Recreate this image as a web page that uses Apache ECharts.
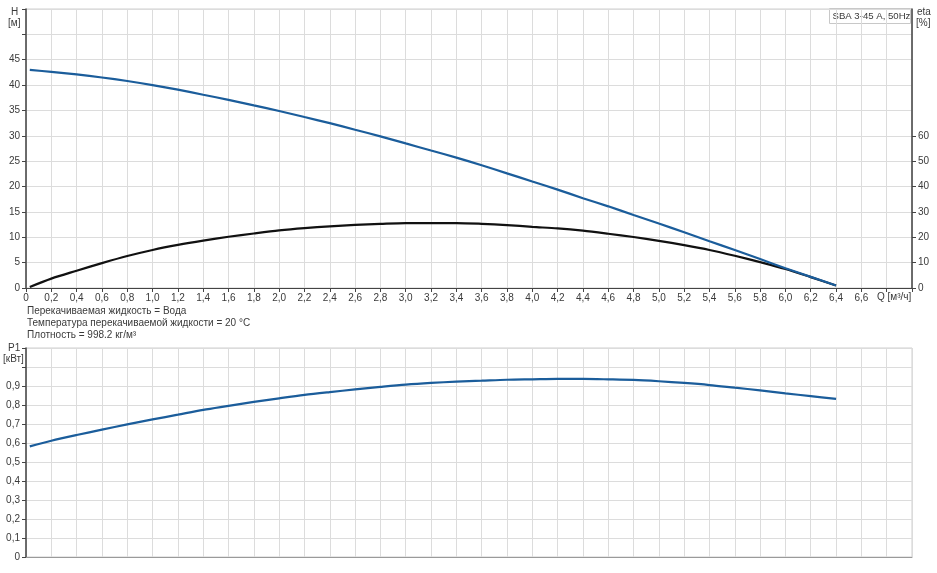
<!DOCTYPE html>
<html>
<head>
<meta charset="utf-8">
<script src="https://cdn.jsdelivr.net/npm/echarts@6/dist/echarts.min.js"></script>
<style>
html,body{margin:0;padding:0;background:#fff;}
#c{width:937px;height:573px;}
</style>
</head>
<body>
<div id="c"></div>
<script>
var Q = [0.03,0.2,0.4,0.6,0.8,1.0,1.2,1.4,1.6,1.8,2.0,2.2,2.4,2.6,2.8,3.0,3.2,3.4,3.6,3.8,4.0,4.2,4.4,4.6,4.8,5.0,5.2,5.4,5.6,5.8,6.0,6.2,6.4];
var H = [43.0,42.6,42.1,41.5,40.8,40.0,39.1,38.1,37.1,36.0,34.9,33.7,32.5,31.2,29.9,28.5,27.1,25.7,24.2,22.6,21.0,19.4,17.7,16.1,14.4,12.7,11.0,9.2,7.5,5.7,3.9,2.2,0.5];
var ETA = [0.4,3.7,6.8,9.8,12.6,15.0,17.0,18.7,20.2,21.5,22.7,23.6,24.3,24.9,25.3,25.6,25.6,25.6,25.3,24.8,24.1,23.5,22.6,21.4,20.1,18.6,16.9,15.0,12.7,10.2,7.5,4.3,1.0];
var P1 = [0.582,0.612,0.642,0.670,0.698,0.724,0.749,0.774,0.795,0.816,0.835,0.853,0.868,0.882,0.895,0.907,0.916,0.923,0.928,0.933,0.935,0.937,0.937,0.935,0.932,0.925,0.916,0.905,0.891,0.877,0.861,0.847,0.832];
var H_TICKS = [0,5,10,15,20,25,30,35,40,45];
var ETA_TICKS = [0,10,20,30,40,50,60];
var P1_TICKS = [0,0.1,0.2,0.3,0.4,0.5,0.6,0.7,0.8,0.9];
var TITLE = 'SBA 3-45 A, 50Hz';
var NOTES = ['Перекачиваемая жидкость = Вода','Температура перекачиваемой жидкости = 20 °C','Плотность = 998.2 кг/м³'];

function pairs(xs, ys){ return xs.map(function(x,i){return [x, ys[i]];}); }
function fmtComma(v){ return (Math.round(v*10)/10).toFixed(1).replace('.', ','); }

var FONT = 'Liberation Sans, Arial, sans-serif';
var TXT = '#3a3a3a';
var GRIDC = '#dcdcdc';
var AXISC = '#444';

var chart = echarts.init(document.getElementById('c'), null, {renderer:'canvas'});

var xCommon = {
  type:'value', min:0, max:7, interval:0.2,
  splitLine:{show:true, lineStyle:{color:GRIDC, width:1}},
};

var option = {
  animation:false,
  textStyle:{fontFamily:FONT},
  grid:[
    {left:26, right:25, top:9, bottom:285, show:true, borderColor:'#cfcfcf', borderWidth:1},
    {left:26, right:25, top:348, bottom:16, show:true, borderColor:'#cfcfcf', borderWidth:1}
  ],
  xAxis:[
    Object.assign({}, xCommon, {
      gridIndex:0,
      axisLine:{show:true, lineStyle:{color:AXISC, width:1}},
      axisTick:{show:true, length:4, lineStyle:{color:AXISC}},
      axisLabel:{color:TXT, fontSize:10, fontFamily:FONT, margin:5,
        formatter:function(v){ if(v>6.7) return ''; return v===0?'0':fmtComma(v);} }
    }),
    Object.assign({}, xCommon, {
      gridIndex:1,
      axisLine:{show:true, lineStyle:{color:'#9a9a9a', width:1}},
      axisTick:{show:false},
      axisLabel:{show:false}
    })
  ],
  yAxis:[
    {type:'value', gridIndex:0, min:0, max:55, interval:5, position:'left',
      axisLine:{show:true, lineStyle:{color:AXISC, width:1.5}},
      axisTick:{show:true, length:4, lineStyle:{color:AXISC}},
      splitLine:{show:true, lineStyle:{color:GRIDC}},
      axisLabel:{color:TXT, fontSize:10, fontFamily:FONT, margin:6,
        formatter:function(v){ return H_TICKS.indexOf(v)>=0 ? String(v) : ''; }}
    },
    {type:'value', gridIndex:0, min:0, max:110, interval:10, position:'right',
      axisLine:{show:true, lineStyle:{color:AXISC, width:1.5}},
      axisTick:{show:true, length:4, lineStyle:{color:AXISC}, customValues:ETA_TICKS},
      splitLine:{show:false},
      axisLabel:{color:TXT, fontSize:10, fontFamily:FONT, margin:6,
        formatter:function(v){ return ETA_TICKS.indexOf(v)>=0 ? String(v) : ''; }}
    },
    {type:'value', gridIndex:1, min:0, max:1.1, interval:0.1, position:'left',
      axisLine:{show:true, lineStyle:{color:AXISC, width:1.5}},
      axisTick:{show:true, length:4, lineStyle:{color:AXISC}},
      splitLine:{show:true, lineStyle:{color:GRIDC}},
      axisLabel:{color:TXT, fontSize:10, fontFamily:FONT, margin:6,
        formatter:function(v){
          var r = Math.round(v*10)/10;
          for (var i=0;i<P1_TICKS.length;i++){ if (Math.abs(P1_TICKS[i]-r)<1e-9) return r===0?'0':fmtComma(r); }
          return '';
        }}
    }
  ],
  series:[
    {type:'line', name:'H', xAxisIndex:0, yAxisIndex:0, data:pairs(Q,H), smooth:0.3, showSymbol:false,
      lineStyle:{color:'#1b5d9b', width:2.2}, z:3},
    {type:'line', name:'eta', xAxisIndex:0, yAxisIndex:1, data:pairs(Q,ETA), smooth:0.3, showSymbol:false,
      lineStyle:{color:'#111111', width:2.2}, z:2},
    {type:'line', name:'P1', xAxisIndex:1, yAxisIndex:2, data:pairs(Q,P1), smooth:0.3, showSymbol:false,
      lineStyle:{color:'#1b5d9b', width:2.2}, z:3}
  ],
  graphic:[
    {type:'group', left:829, top:8, z:10, children:[
      {type:'rect', shape:{x:0,y:0,width:81,height:15}, style:{fill:'#fff', stroke:'#c8c8c8', lineWidth:1}},
      {type:'text', x:3, y:2.5, style:{text:TITLE, fill:TXT, font:'9.6px '+FONT}}
    ]},
    {type:'text', left:11, top:7, style:{text:'H', fill:TXT, font:'10px '+FONT}},
    {type:'text', left:8, top:18, style:{text:'[м]', fill:TXT, font:'10px '+FONT}},
    {type:'text', left:917, top:7, style:{text:'eta', fill:TXT, font:'10px '+FONT}},
    {type:'text', left:916, top:18, style:{text:'[%]', fill:TXT, font:'10px '+FONT}},
    {type:'text', left:877, top:292, style:{text:'Q [м³/ч]', fill:TXT, font:'10px '+FONT}},
    {type:'text', left:27, top:306, style:{text:NOTES[0], fill:TXT, font:'10px '+FONT}},
    {type:'text', left:27, top:318, style:{text:NOTES[1], fill:TXT, font:'10px '+FONT}},
    {type:'text', left:27, top:330, style:{text:NOTES[2], fill:TXT, font:'10px '+FONT}},
    {type:'text', left:8, top:343, style:{text:'P1', fill:TXT, font:'10px '+FONT}},
    {type:'text', left:3, top:354, style:{text:'[кВт]', fill:TXT, font:'10px '+FONT}}
  ]
};
chart.setOption(option);
</script>
</body>
</html>
